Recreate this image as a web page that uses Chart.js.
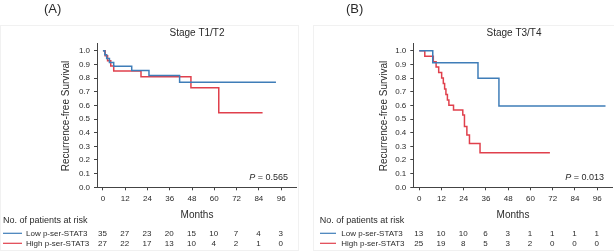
<!DOCTYPE html>
<html><head><meta charset="utf-8">
<script src="https://cdn.jsdelivr.net/npm/chart.js@4.4.1/dist/chart.umd.min.js"></script>
<style>
html,body{margin:0;padding:0;background:#fff;}
#wrap{position:relative;width:614px;height:252px;overflow:hidden;background:#fff;}
canvas{position:absolute;top:0;}
</style></head><body>
<div id="wrap">
<canvas id="cA" width="307" height="252" style="left:0px"></canvas>
<canvas id="cB" width="307" height="252" style="left:307px"></canvas>
</div>
<script>
// ---- data ----
const months = [0, 12, 24, 36, 48, 60, 72, 84, 96];
const survTicks = [0.0, 0.1, 0.2, 0.3, 0.4, 0.5, 0.6, 0.7, 0.8, 0.9, 1.0];
const groupLabels = ['Low p-ser-STAT3', 'High p-ser-STAT3'];

// Panel A: Stage T1/T2
const lowA_t  = [0, 1, 2, 3.5, 5.8, 15.5, 24.8, 41.3, 93.2];
const lowA_s  = [1, 0.971, 0.943, 0.914, 0.886, 0.855, 0.818, 0.769, 0.769];
const highA_t = [0, 1.2, 2.5, 4.2, 5.8, 20.5, 47.4, 62.4, 86];
const highA_s = [1, 0.963, 0.926, 0.889, 0.852, 0.81, 0.729, 0.546, 0.546];
const riskLowA  = [35, 27, 23, 20, 15, 10, 7, 4, 3];
const riskHighA = [27, 22, 17, 13, 10, 4, 2, 1, 0];

// Panel B: Stage T3/T4
const lowB_t  = [0, 7.3, 31.7, 43, 100.5];
const lowB_s  = [1, 0.912, 0.798, 0.596, 0.596];
const highB_t = [0, 3, 7.6, 9.1, 10.5, 12.1, 13, 13.7, 14.4, 15.2, 16, 18.5, 23.5, 24.4, 25.7, 27.1, 32.8, 70.5];
const highB_s = [1, 0.96, 0.92, 0.88, 0.84, 0.80, 0.76, 0.72, 0.68, 0.64, 0.60, 0.566, 0.53, 0.445, 0.383, 0.32, 0.253, 0.253];
const riskLowB  = [13, 10, 10, 6, 3, 1, 1, 1, 1];
const riskHighB = [25, 19, 8, 5, 3, 2, 0, 0, 0];

// ---- styles ----
const FF = '"Liberation Sans", Arial, Helvetica, sans-serif';
const BLUE = '#3f7db8';
const RED = '#e0404c';
const AX = '#444444';
const TXT = '#2a2a2a';

function pts(t, s) { return t.map((v, i) => ({ x: v, y: s[i] })); }

const panelPlugin = {
  id: 'panel',
  beforeDraw(chart, args, o) {
    const ctx = chart.ctx;
    ctx.save();
    ctx.strokeStyle = '#f1f1f1';
    ctx.lineWidth = 1;
    ctx.strokeRect(o.frame[0] + 0.5, o.frame[1] + 0.5, o.frame[2], o.frame[3]);
    ctx.restore();
  },
  afterDraw(chart, args, o) {
    const ctx = chart.ctx, xs = chart.scales.x;
    ctx.save();
    ctx.fillStyle = TXT;
    ctx.textBaseline = 'middle';
    // panel label
    ctx.font = '13px ' + FF;
    ctx.textAlign = 'left';
    ctx.fillText(o.label, o.labelX, 9.5);
    // title
    ctx.font = '10px ' + FF;
    ctx.textAlign = 'center';
    ctx.fillText(o.title, o.titleX, 33);
    // x title
    ctx.fillText('Months', o.monthsX, 215);
    // y title
    ctx.save();
    ctx.translate(o.yTitleX, 116);
    ctx.rotate(-Math.PI / 2);
    ctx.fillText('Recurrence-free Survival', 0, 0);
    ctx.restore();
    // p value
    ctx.font = '9px ' + FF;
    ctx.textAlign = 'right';
    const rest = ' = ' + o.p;
    ctx.fillText(rest, o.pRight, 177.5);
    const w = ctx.measureText(rest).width;
    ctx.font = 'italic 9px ' + FF;
    ctx.fillText('P', o.pRight - w, 177.5);
    // risk table
    ctx.font = '9px ' + FF;
    ctx.textAlign = 'left';
    ctx.fillText('No. of patients at risk', o.riskX, 220.8);
    const rowsY = [233.3, 243.3];
    const cols = [BLUE, RED];
    ctx.font = '8px ' + FF;
    for (let r = 0; r < 2; r++) {
      const y = rowsY[r];
      ctx.strokeStyle = cols[r];
      ctx.lineWidth = 1.2;
      ctx.beginPath();
      ctx.moveTo(o.lineX0, y);
      ctx.lineTo(o.lineX1, y);
      ctx.stroke();
      ctx.textAlign = 'left';
      ctx.fillText(groupLabels[r], o.groupX, y);
      ctx.textAlign = 'center';
      const arr = o.risk[r];
      for (let i = 0; i < arr.length; i++) {
        ctx.fillText(String(arr[i]), xs.getPixelForValue(months[i]) - 0.5, y);
      }
    }
    ctx.restore();
  }
};

function makePanel(id, low, high, pad, yW, o) {
  return new Chart(document.getElementById(id), {
    type: 'line',
    data: {
      datasets: [
        { data: pts(low[0], low[1]), borderColor: BLUE, borderWidth: 1.5, stepped: 'before', pointRadius: 0, fill: false },
        { data: pts(high[0], high[1]), borderColor: RED, borderWidth: 1.5, stepped: 'before', pointRadius: 0, fill: false }
      ]
    },
    options: {
      responsive: false,
      animation: false,
      devicePixelRatio: 1,
      layout: { padding: pad },
      plugins: { legend: { display: false }, tooltip: { enabled: false }, panel: o },
      scales: {
        x: {
          type: 'linear', min: -3.2, max: 104,
          afterBuildTicks: s => { s.ticks = months.map(v => ({ value: v })); },
          afterFit: s => { s.height = 252 - 187.3 - pad.bottom; },
          border: { display: true, color: AX, width: 1 },
          grid: { display: true, drawOnChartArea: false, drawTicks: true, tickLength: 3, color: AX },
          ticks: { color: TXT, font: { family: FF, size: 8 }, padding: 4, autoSkip: false, maxRotation: 0 }
        },
        y: {
          type: 'linear', min: 0, max: 1.05,
          afterBuildTicks: s => { s.ticks = survTicks.map(v => ({ value: v })); },
          afterFit: s => { s.width = yW; },
          border: { display: true, color: AX, width: 1 },
          grid: { display: true, drawOnChartArea: false, drawTicks: true, tickLength: 3, color: AX },
          ticks: { color: TXT, font: { family: FF, size: 8 }, padding: 4, callback: v => Number(v).toFixed(1) }
        }
      }
    },
    plugins: [panelPlugin]
  });
}

makePanel('cA', [lowA_t, lowA_s], [highA_t, highA_s],
  { left: 0, top: 43.9, right: 11, bottom: 0 }, 97,
  { label: '(A)', labelX: 44, title: 'Stage T1/T2', titleX: 197, monthsX: 197, yTitleX: 66,
    p: '0.565', pRight: 288, riskX: 3, lineX0: 3, lineX1: 22, groupX: 26,
    frame: [0, 25, 298, 225], risk: [riskLowA, riskHighA] });

makePanel('cB', [lowB_t, lowB_s], [highB_t, highB_s],
  { left: 0, top: 43.9, right: 2, bottom: 0 }, 106.3,
  { label: '(B)', labelX: 39, title: 'Stage T3/T4', titleX: 207, monthsX: 206, yTitleX: 77,
    p: '0.013', pRight: 297, riskX: 12.7, lineX0: 13, lineX1: 29, groupX: 34.3,
    frame: [6, 25, 310, 225], risk: [riskLowB, riskHighB] });
</script>
</body></html>
